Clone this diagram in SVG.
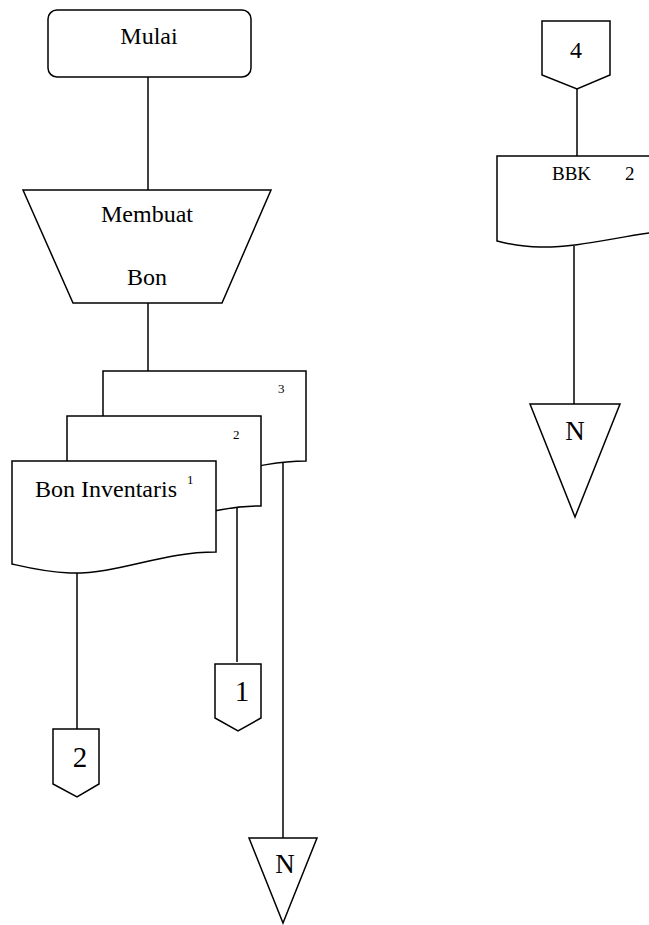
<svg xmlns="http://www.w3.org/2000/svg" width="649" height="925" viewBox="0 0 649 925">
  <style>
    .shape { fill: #fff; stroke: #000; stroke-width: 1.5; stroke-linejoin: miter; }
    .line { fill: none; stroke: #000; stroke-width: 1.5; }
    text { font-family: "Liberation Serif", "Times New Roman", serif; fill: #000; }
    .lg { font-size: 24px; }
    .xl { font-size: 29px; }
    .nn { font-size: 27px; }
    .md { font-size: 19px; }
    .sm { font-size: 13px; }
    .mid { text-anchor: middle; }
  </style>
  <rect width="649" height="925" fill="#fff"/>

  <!-- connectors -->
  <g id="connectors">
    <line class="line" x1="148" y1="77" x2="148" y2="190"/>
    <line class="line" x1="148" y1="303" x2="148" y2="371"/>
    <line class="line" x1="77" y1="572" x2="77" y2="729"/>
    <line class="line" x1="237" y1="508" x2="237" y2="662"/>
    <line class="line" x1="283" y1="462" x2="283" y2="838"/>
    <line class="line" x1="577" y1="89" x2="577" y2="156"/>
    <line class="line" x1="574" y1="246" x2="574" y2="404"/>
  </g>

  <!-- start terminator -->
  <g id="mulai">
    <rect class="shape" x="48" y="10" width="203" height="67" rx="9" ry="9"/>
    <text class="lg mid" x="149" y="44">Mulai</text>
  </g>

  <!-- manual operation -->
  <g id="membuat-bon">
    <polygon class="shape" points="23,190 271,190 222,303 73,303"/>
    <text class="lg mid" x="147" y="222">Membuat</text>
    <text class="lg mid" x="147" y="285">Bon</text>
  </g>

  <!-- document copies, back to front -->
  <g id="bon-copy-3">
    <path class="shape" d="M103,371 H306 V461 C 250,461 210,484 160,483 C 135,482 115,477 103,474 Z"/>
    <text class="sm" x="278" y="393">3</text>
  </g>
  <g id="bon-copy-2">
    <path class="shape" d="M67,416 H261 V506 C 205,506 165,529 117,528 C 95,527 78,522 67,519 Z"/>
    <text class="sm" x="233" y="439">2</text>
  </g>
  <g id="bon-inventaris">
    <path class="shape" d="M12,461 H216 V552 C 160,552 120,574 70,573 C 45,572 25,567 12,564 Z"/>
    <text class="lg" x="35" y="497">Bon Inventaris</text>
    <text class="sm" x="187" y="484">1</text>
  </g>

  <!-- off-page connectors -->
  <g id="off-page-2">
    <polygon class="shape" points="53,729 99,729 99,784 77,797 53,784"/>
    <text class="xl mid" x="80" y="767">2</text>
  </g>
  <g id="off-page-1">
    <polygon class="shape" points="215,664 261,664 261,718 238,731 215,718"/>
    <text class="xl mid" x="242" y="701">1</text>
  </g>
  <g id="off-page-4">
    <polygon class="shape" points="542,21 610,21 610,75 577,89 542,75"/>
    <text class="lg mid" x="576" y="58">4</text>
  </g>

  <!-- archive triangles -->
  <g id="arsip-left">
    <polygon class="shape" points="249,838 317,838 283,923"/>
    <text class="nn mid" x="285" y="873">N</text>
  </g>
  <g id="arsip-right">
    <polygon class="shape" points="530,404 620,404 575,517"/>
    <text class="nn mid" x="575" y="440">N</text>
  </g>

  <!-- BBK document -->
  <g id="bbk">
    <path class="shape" d="M497,156 H700 V229 C 640,229 590,248 540,247 C 520,247 505,243 497,241 Z"/>
    <text class="md" x="552" y="180">BBK</text>
    <text class="md" x="625" y="180">2</text>
  </g>
</svg>
